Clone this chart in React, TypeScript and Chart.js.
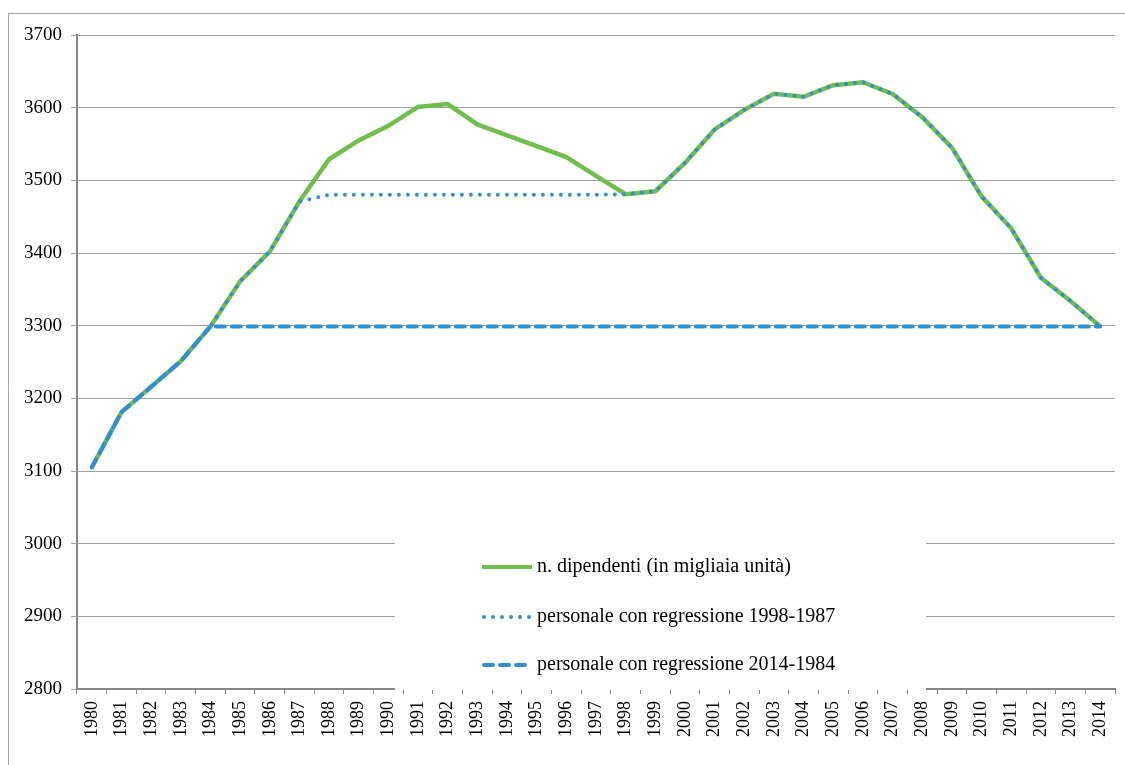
import React, { useEffect, useRef } from 'react';
import { Chart, registerables } from 'chart.js';

Chart.register(...registerables);

const years = ['1980','1981','1982','1983','1984','1985','1986','1987','1988','1989','1990','1991','1992','1993','1994','1995','1996','1997','1998','1999','2000','2001','2002','2003','2004','2005','2006','2007','2008','2009','2010','2011','2012','2013','2014'];

const dipendenti = [3105,3181,3216,3251,3299,3361,3402,3471,3529,3555,3575,3601,3605,3577,3562,3547,3532,3506,3481,3485,3524,3570,3597,3619,3615,3631,3635,3619,3587,3545,3478,3434,3366,3334,3299];

const regressione19981987 = [3105,3181,3216,3251,3299,3361,3402,3471,3480,3480,3480,3480,3480,3480,3480,3480,3480,3480,3481,3485,3524,3570,3597,3619,3615,3631,3635,3619,3587,3545,3478,3434,3366,3334,3299];

const regressione20141984 = [3105,3181,3216,3251,3299,3299,3299,3299,3299,3299,3299,3299,3299,3299,3299,3299,3299,3299,3299,3299,3299,3299,3299,3299,3299,3299,3299,3299,3299,3299,3299,3299,3299,3299,3299];

const seriesLabels = [
  'n. dipendenti (in migliaia unità)',
  'personale con regressione 1998-1987',
  'personale con regressione 2014-1984',
];

const yTicksMin = 2800;
const yTicksMax = 3700;
const yTicksStep = 100;

const GREEN = '#70BE4B';
const BLUE = '#2E8FD5';
const FONT = '"Liberation Serif", "Times New Roman", serif';

export default function App() {
  const ref = useRef<HTMLCanvasElement | null>(null);

  useEffect(() => {
    document.body.style.margin = '0';
    document.body.style.overflow = 'hidden';
    const canvas = ref.current;
    if (!canvas) return;

    const framePlugin = {
      id: 'frame',
      beforeDraw(chart: any) {
        const ctx = chart.ctx;
        ctx.save();
        ctx.fillStyle = '#fff';
        ctx.fillRect(0, 0, chart.width, chart.height);
        ctx.strokeStyle = '#a6a6a6';
        ctx.lineWidth = 1;
        ctx.beginPath();
        ctx.moveTo(8.5, chart.height);
        ctx.lineTo(8.5, 13.5);
        ctx.lineTo(chart.width, 13.5);
        ctx.stroke();
        ctx.restore();
      },
    };

    const legendPlugin = {
      id: 'customLegend',
      afterDraw(chart: any) {
        const ctx = chart.ctx;
        ctx.save();
        ctx.fillStyle = '#fff';
        ctx.fillRect(395, 525, 531, 165);
        const ys = [567, 617, 665];
        const styles = [
          { color: GREEN, dash: [], cap: 'butt', x0: 482, x1: 532 },
          { color: BLUE, dash: [0, 9], cap: 'round', x0: 484, x1: 533 },
          { color: BLUE, dash: [9, 7], cap: 'round', x0: 484, x1: 530 },
        ];
        styles.forEach((s, i) => {
          ctx.beginPath();
          ctx.strokeStyle = s.color;
          ctx.lineWidth = 4;
          ctx.lineCap = s.cap;
          ctx.setLineDash(s.dash);
          ctx.moveTo(s.x0, ys[i]);
          ctx.lineTo(s.x1, ys[i]);
          ctx.stroke();
        });
        ctx.setLineDash([]);
        ctx.fillStyle = '#000';
        ctx.font = `20px ${FONT}`;
        ctx.textBaseline = 'middle';
        ctx.textAlign = 'left';
        seriesLabels.forEach((t, i) => ctx.fillText(t, 537, ys[i]));
        ctx.restore();
      },
    };

    const chart = new Chart(canvas, {
      type: 'line',
      data: {
        labels: years,
        datasets: [
          {
            label: seriesLabels[0],
            data: dipendenti,
            borderColor: GREEN,
            backgroundColor: GREEN,
            borderWidth: 4.5,
            pointRadius: 0,
            tension: 0,
            order: 3,
          },
          {
            label: seriesLabels[1],
            data: regressione19981987,
            borderColor: BLUE,
            backgroundColor: BLUE,
            borderWidth: 4,
            borderDash: [0, 9],
            borderCapStyle: 'round',
            pointRadius: 0,
            tension: 0,
            order: 2,
          },
          {
            label: seriesLabels[2],
            data: regressione20141984,
            borderColor: BLUE,
            backgroundColor: BLUE,
            borderWidth: 4,
            borderDash: [9, 7],
            borderCapStyle: 'round',
            pointRadius: 0,
            tension: 0,
            order: 1,
          },
        ],
      },
      options: {
        responsive: false,
        animation: false,
        layout: { padding: { left: 0, top: 35, right: 10, bottom: 0 } },
        plugins: {
          legend: { display: false },
          tooltip: { enabled: false },
        },
        scales: {
          x: {
            type: 'category',
            offset: true,
            grid: {
              offset: true,
              drawOnChartArea: false,
              drawTicks: true,
              tickLength: 5,
              color: '#868686',
              lineWidth: 1,
            },
            border: { color: '#868686', width: 2 },
            ticks: {
              autoSkip: false,
              minRotation: 90,
              maxRotation: 90,
              padding: 7,
              color: '#000',
              font: { family: FONT, size: 18 },
            },
            afterFit(scale: any) {
              scale.height = 76;
              scale.paddingLeft = 0;
              scale.paddingRight = 0;
            },
          },
          y: {
            min: yTicksMin,
            max: yTicksMax,
            ticks: {
              stepSize: yTicksStep,
              padding: 9,
              color: '#000',
              font: { family: FONT, size: 19 },
              callback: (v: any) => String(v),
            },
            grid: {
              color: '#a0a0a0',
              lineWidth: 1,
              tickLength: 6,
            },
            border: { color: '#868686', width: 2 },
            afterFit(scale: any) {
              scale.width = 77;
              scale.paddingTop = 0;
              scale.paddingBottom = 0;
            },
          },
        },
      },
      plugins: [framePlugin, legendPlugin],
    } as any);

    return () => chart.destroy();
  }, []);

  return (
    <canvas
      ref={ref}
      width={1125}
      height={765}
      style={{ display: 'block', width: '1125px', height: '765px' }}
    />
  );
}
